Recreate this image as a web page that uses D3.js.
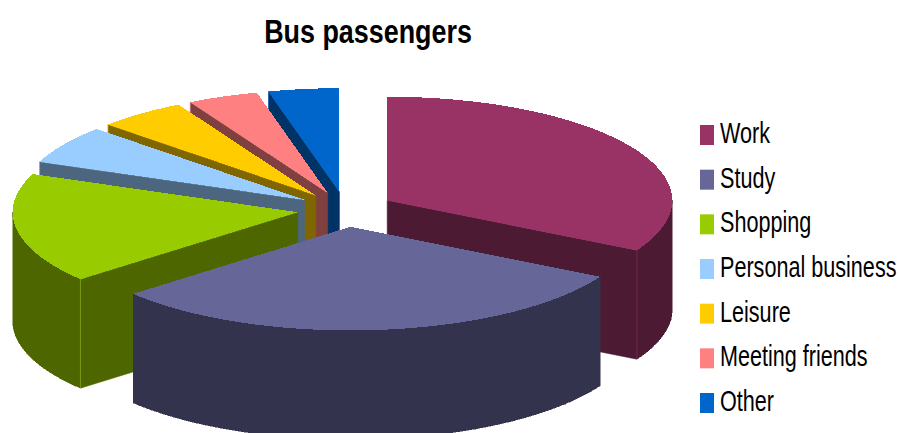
<!DOCTYPE html>
<html>
<head>
<meta charset="utf-8">
<script src="https://cdnjs.cloudflare.com/ajax/libs/d3/7.8.5/d3.min.js"></script>
<style>
html,body{margin:0;padding:0;background:#fff;}
svg{display:block;}
text{font-family:"Liberation Sans",Arial,sans-serif;fill:#000;}
</style>
</head>
<body>
<svg id="chart" width="899" height="433"></svg>
<script>
// Share of bus passengers by purpose of journey (percent)
const categories = ["Work","Study","Shopping","Personal business","Leisure","Meeting friends","Other"];
const shares = [33,30.8,17.2,6,5,4,4];
const topColours = ["#993366","#666699","#99cc00","#99ccff","#ffcc00","#ff8080","#0066cc"];
const sideColours = ["#4d1a33","#33334d","#4d6600","#4d6680","#806600","#804040","#003366"];

const svg = d3.select("#chart");

// Tilted-disc projection
const cx = 345.5, cy = 209.3, rx = 285, ry = 103.6, depth = 109, explode = 0.17;
const px = (a, r) => rx * r * Math.sin(a);
const py = (a, r) => -ry * r * Math.cos(a);
const line = d3.line();

const slices = d3.pie().sort(null).value(d => d)(shares).map((s, i) => {
  const mid = (s.startAngle + s.endAngle) / 2;
  return {...s, i, ox: cx + px(mid, explode), oy: cy + py(mid, explode)};
});

const arcPoints = (s, a0, a1, dy = 0) => {
  const n = Math.max(2, Math.ceil((a1 - a0) / 0.015));
  return d3.range(n + 1).map(k => {
    const a = a0 + (a1 - a0) * k / n;
    return [s.ox + px(a, 1), s.oy + py(a, 1) + dy];
  });
};

const rim = (s, a) => [s.ox + px(a, 1), s.oy + py(a, 1)];

// Radial wall of a slice, extruded downward from the rim to the apex
const radialWall = (s, a) => {
  const [x, y] = rim(s, a);
  return line([[s.ox, s.oy], [x, y], [x, y + depth], [s.ox, s.oy + depth]]) + "Z";
};

// Back-to-front paint order, with the largest front slice last
const order = [6,5,4,3,2,0,1];
const g = svg.append("g");

order.forEach(i => {
  const s = slices[i];
  const sl = g.append("g").attr("class", "slice");
  const side = sideColours[i];
  const wallAngles = [];
  // start wall faces the viewer on the left half, end wall on the right half
  if (Math.sin(s.startAngle) < -1e-6) wallAngles.push(s.startAngle);
  if (Math.sin(s.endAngle) > 1e-6) wallAngles.push(s.endAngle);
  wallAngles.forEach(a => {
    sl.append("path").attr("d", radialWall(s, a))
      .attr("fill", side).attr("stroke", side).attr("stroke-width", 0.5);
  });
  // outer rim is visible on the lower half of the disc
  const a0 = Math.max(s.startAngle, Math.PI / 2), a1 = Math.min(s.endAngle, Math.PI * 1.5);
  if (a1 > a0) {
    const top = arcPoints(s, a0, a1), bottom = arcPoints(s, a0, a1, depth).reverse();
    sl.append("path").attr("d", line(top.concat(bottom)) + "Z")
      .attr("fill", side).attr("stroke", side).attr("stroke-width", 0.5)
      .attr("shape-rendering", "crispEdges");
  }
  // top face
  const face = [[s.ox, s.oy], ...arcPoints(s, s.startAngle, s.endAngle)];
  sl.append("path").attr("d", line(face) + "Z").attr("fill", topColours[i])
    .attr("shape-rendering", "crispEdges");
  // thin highlight along the wall's upper edge and outer corner
  wallAngles.forEach(a => {
    const [x, y] = rim(s, a);
    sl.append("path").attr("d", line([[s.ox, s.oy], [x, y], [x, y + depth]]))
      .attr("fill", "none").attr("stroke", topColours[i])
      .attr("stroke-width", 0.6).attr("stroke-opacity", 0.7);
  });
});

// Title, narrowed horizontally
svg.append("text")
  .attr("transform", "translate(368,43) scale(0.815,1)")
  .attr("text-anchor", "middle")
  .attr("font-size", 33).attr("font-weight", "bold")
  .text("Bus passengers");

// Legend
const rowY = d3.scalePoint().domain(categories).range([125, 393]);
const legend = svg.append("g").selectAll("g").data(categories).join("g")
  .attr("transform", d => `translate(700,${rowY(d)})`);
legend.append("rect").attr("width", 14).attr("height", 20)
  .attr("fill", (d, i) => topColours[i]);
legend.append("text")
  .attr("transform", "translate(20,18) scale(0.745,1)")
  .attr("font-size", 29)
  .text(d => d);
</script>
</body>
</html>
